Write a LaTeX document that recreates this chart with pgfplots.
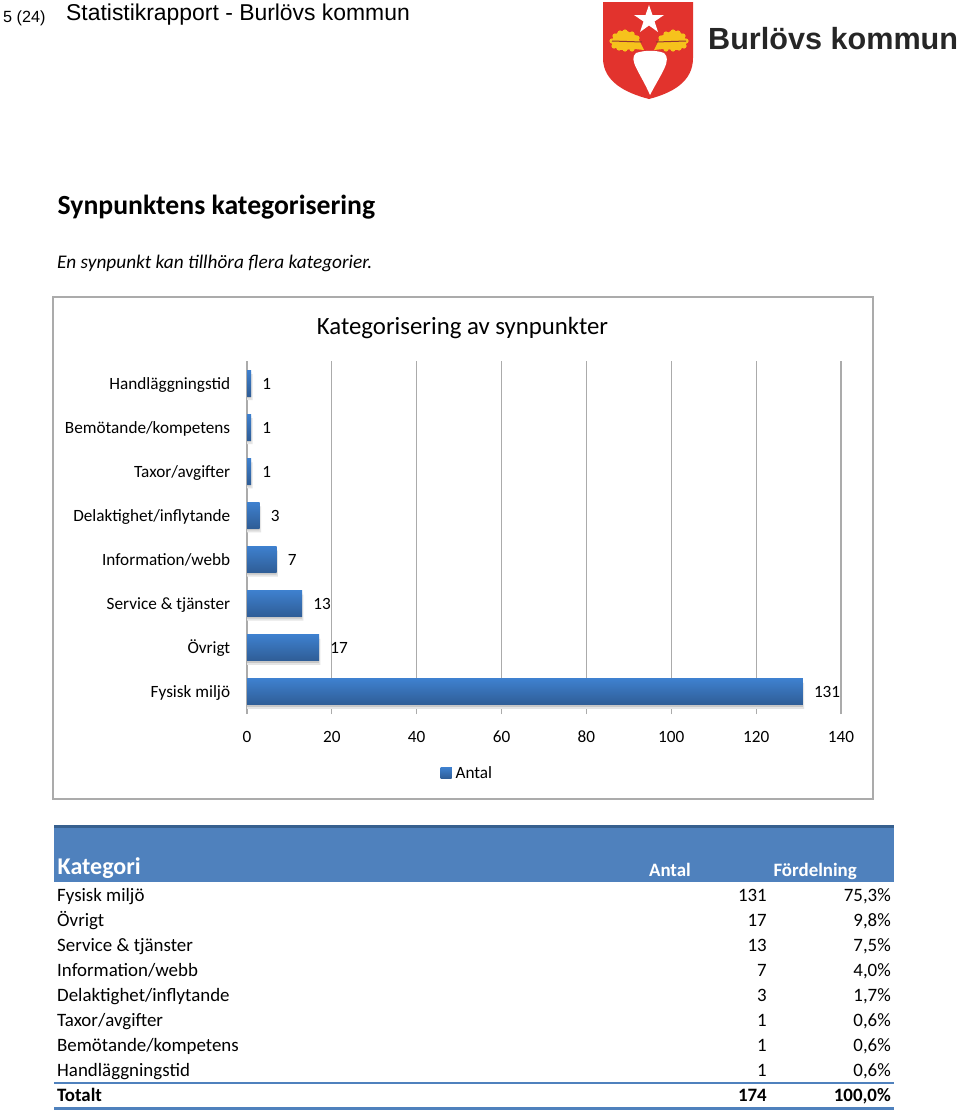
\documentclass[border=0pt]{standalone}
\usepackage{pgfplots}
\pgfplotsset{compat=1.18}
\usepackage{fontspec}
\setmainfont{Carlito}
\newfontfamily\hel{Liberation Sans}
\definecolor{gridc}{HTML}{ABABAB}
\definecolor{frame}{HTML}{ABABAB}
\definecolor{barT}{HTML}{3E80CE}
\definecolor{barB}{HTML}{2F5D96}
\definecolor{head}{HTML}{4F81BD}
\definecolor{headD}{HTML}{37608F}
\definecolor{shieldr}{HTML}{E2332D}
\definecolor{leafy}{HTML}{F6C21C}
\newcommand{\fs}[1]{\fontsize{#1}{#1}\selectfont}
\begin{document}
\begin{tikzpicture}[x=1pt,y=-1pt]
\useasboundingbox (0,0) rectangle (960,1111);
\fill[white] (0,0) rectangle (960,1111);
% page header
\node[anchor=base west,inner sep=0,font=\hel\fs{16.2}] at (3,22) {5 (24)};
\node[anchor=base west,inner sep=0,font=\hel\fs{22.9}] at (66,20) {Statistikrapport - Burlövs kommun};
% logo
\fill[shieldr] (603,2) -- (693,2) -- (693,58) .. controls (693,82) and (672,93) .. (649,99) .. controls (626,93) and (603,82) .. (603,58) -- cycle;
\fill[white] (649,5) -- (652.5,15) -- (664,15) -- (654.5,21.5) -- (658,32) -- (649,25.5) -- (640,32) -- (643.5,21.5) -- (634,15) -- (645.5,15) -- cycle;
\foreach \sx in {1,-1}{
\begin{scope}[shift={(649,0)},xscale=\sx]
\fill[leafy] (5,50) -- (14,49) -- (28,50) -- (36,47) -- (38,41) -- (32,33) -- (24,30) -- (12,36) -- cycle;
\foreach \cx/\cy in {35/46,37/41,34/36,29/33,24/32,17/34,12/38,30/48,24/49,17/49}{
  \fill[leafy] (\cx,\cy) circle (2.6);
}
\draw[shieldr!60!black!90,line width=1pt] (7,42) -- (37,41);
\end{scope}
}
\fill[white] (636,53) .. controls (645,50) and (656,50) .. (664,53) .. controls (672,60) and (662,72) .. (650,95) .. controls (640,72) and (628,60) .. (636,53) -- cycle;
\node[anchor=base west,inner sep=0,font=\hel\bfseries\fs{30.6},text=black!85] at (708,49) {Burlövs kommun};
% headings
\node[anchor=base west,inner sep=0,font=\bfseries\fs{27.7}] at (57.5,214) {Synpunktens kategorisering};
\node[anchor=base west,inner sep=0,font=\itshape\fs{19.3}] at (57,268) {En synpunkt kan tillhöra flera kategorier.};
% chart frame
\draw[frame,line width=1.6pt,fill=white] (53,297) rectangle (873,799);
\node[anchor=base,inner sep=0,font=\fs{24.8}] at (462.5,334) {Kategorisering av synpunkter};
\begin{axis}[
  at={(247pt,-714pt)},anchor=south west,
  scale only axis,width=594pt,height=353pt,
  xbar,bar width=26pt,
  xmin=0,xmax=140,ymin=-0.5,ymax=7.5,
  xtick={0,20,40,60,80,100,120,140},
  ytick={0,1,2,3,4,5,6,7},
  yticklabels={Fysisk miljö,Övrigt,Service \& tjänster,Information/webb,Delaktighet/inflytande,Taxor/avgifter,Bemötande/kompetens,Handläggningstid},
  tick style={draw=none},
  axis line style={draw=none},
  xmajorgrids,
  grid style={gridc,line width=1.1pt},
  tick label style={font=\fs{17.2},/pgf/number format/assume math mode=true},
  xticklabel style={anchor=north,text height=12pt,text depth=0pt,yshift=-13pt},
  yticklabel style={anchor=east,text height=12pt,text depth=4pt,xshift=-9pt,yshift=-2pt},
  legend style={at={(0.371,-0.167)},anchor=center,draw=none,fill=none,font=\fs{17.2},inner sep=0pt},
  legend image code/.code={\fill[barT!65!barB] (4pt,-5.5pt) rectangle (15pt,5.5pt);},
  mybar/.style={draw=none,shade,shading=axis,top color=barT,bottom color=barB,bar shift=0pt,
    nodes near coords,
    nodes near coords style={font=\fs{17.2},anchor=west,inner sep=0,text height=12pt,text depth=4pt,xshift=11pt,yshift=-2pt,/pgf/number format/assume math mode=true}},
]
\addplot[forget plot,draw=none,fill=black!10,bar shift=-4pt]
  coordinates {(131.3,0) (17.3,1) (13.3,2) (7.3,3) (3.3,4) (1.3,5) (1.3,6) (1.3,7)};
\addplot[forget plot,draw=none,fill=black!22,bar shift=-2pt]
  coordinates {(131,0) (17,1) (13,2) (7,3) (3,4) (1,5) (1,6) (1,7)};
\addplot[mybar] coordinates {(131,0)};
\addlegendentry{\hspace{2pt}Antal}
\addplot[mybar,forget plot] coordinates {(17,1)};
\addplot[mybar,forget plot] coordinates {(13,2)};
\addplot[mybar,forget plot] coordinates {(7,3)};
\addplot[mybar,forget plot] coordinates {(3,4)};
\addplot[mybar,forget plot] coordinates {(1,5)};
\addplot[mybar,forget plot] coordinates {(1,6)};
\addplot[mybar,forget plot] coordinates {(1,7)};
\end{axis}
% table
\fill[head] (54,826) rectangle (894,882);
\fill[headD] (54,825) rectangle (894,828);
\node[anchor=base west,inner sep=0,font=\bfseries\fs{24},text=white] at (57.5,874) {Kategori};
\node[anchor=base east,inner sep=0,font=\bfseries\fs{18.9},text=white] at (691,876) {Antal};
\node[anchor=base east,inner sep=0,font=\bfseries\fs{18.9},text=white] at (857,876) {Fördelning};
\foreach \r/\n/\a/\p in {0/Fysisk miljö/131/{75,3\%},1/Övrigt/17/{9,8\%},2/Service \& tjänster/13/{7,5\%},3/Information\slash webb/7/{4,0\%},4/Delaktighet\slash inflytande/3/{1,7\%},5/Taxor\slash avgifter/1/{0,6\%},6/Bemötande\slash kompetens/1/{0,6\%},7/Handläggningstid/1/{0,6\%}}{
  \pgfmathsetmacro{\yy}{901+25*\r}
  \node[anchor=base west,inner sep=0,font=\fs{18.9}] at (57,\yy) {\n};
  \node[anchor=base east,inner sep=0,font=\fs{18.9}] at (767,\yy) {\a};
  \node[anchor=base east,inner sep=0,font=\fs{18.9}] at (891,\yy) {\p};
}
\draw[head,line width=1.6pt] (54,1083) -- (894,1083);
\node[anchor=base west,inner sep=0,font=\bfseries\fs{18.9}] at (57,1101) {Totalt};
\node[anchor=base east,inner sep=0,font=\bfseries\fs{18.9}] at (767,1101) {174};
\node[anchor=base east,inner sep=0,font=\bfseries\fs{18.9}] at (891,1101) {100,0\%};
\draw[head,line width=3pt] (54,1108.5) -- (894,1108.5);
\end{tikzpicture}
\end{document}
